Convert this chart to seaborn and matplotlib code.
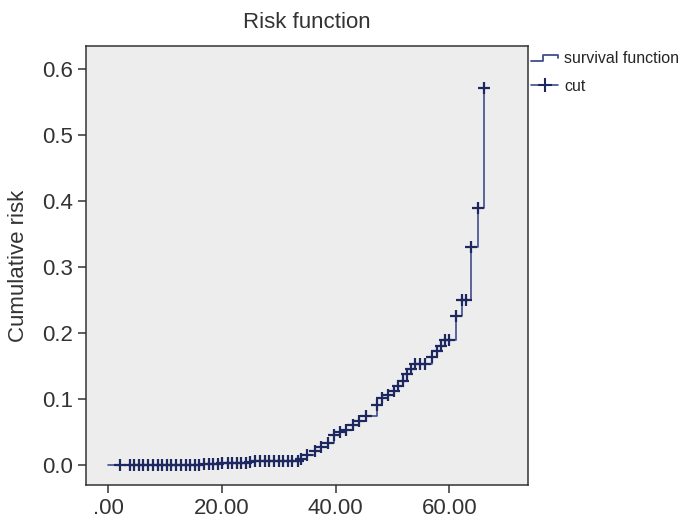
import matplotlib
matplotlib.use("Agg")
import matplotlib.pyplot as plt
from matplotlib.legend_handler import HandlerBase
from matplotlib.lines import Line2D
import pandas as pd
import seaborn as sns

# censored points on the cumulative risk curve (time, risk)
times = [2.1, 3.8, 4.6, 5.4, 6.2, 7.0, 7.9, 8.7, 9.5, 10.3, 11.1, 11.9,
         12.8, 13.6, 14.4, 15.2, 16.0, 16.9, 17.7, 18.5, 19.3, 20.1, 21.0,
         21.8, 22.6, 23.4, 24.2, 25.0, 25.9, 26.7, 27.5, 28.3, 29.2, 30.0,
         30.8, 31.6, 32.4, 33.3, 34.0, 35.0, 36.3, 37.4, 38.6, 39.8, 40.7,
         41.8, 43.0, 44.2, 45.4, 47.2, 48.1, 49.2, 50.2, 51.0, 51.9, 52.6,
         53.2, 54.0, 54.9, 55.8, 57.0, 57.9, 58.5, 59.2, 60.0, 61.2, 62.2,
         63.0, 63.9, 65.1, 66.1]
risk = [0.0, 0.0, 0.0, 0.0, 0.0, 0.0, 0.0, 0.0, 0.0, 0.0, 0.0, 0.0,
        0.0, 0.0, 0.0, 0.0, 0.0, 0.002, 0.002, 0.002, 0.002, 0.003, 0.003,
        0.003, 0.003, 0.003, 0.004, 0.005, 0.006, 0.006, 0.006, 0.006, 0.006, 0.006,
        0.006, 0.006, 0.006, 0.006, 0.010, 0.015, 0.022, 0.028, 0.034, 0.046, 0.051,
        0.054, 0.061, 0.067, 0.074, 0.091, 0.101, 0.106, 0.112, 0.120, 0.128, 0.138,
        0.145, 0.153, 0.153, 0.153, 0.164, 0.173, 0.180, 0.190, 0.190, 0.226, 0.250,
        0.250, 0.331, 0.389, 0.571]

x_ticks = [0, 20, 40, 60]
x_labels = [".00", "20.00", "40.00", "60.00"]
y_ticks = [0.0, 0.1, 0.2, 0.3, 0.4, 0.5, 0.6]

line_color = "#3f4e8e"
mark_color = "#1e2860"


class StepHandler(HandlerBase):
    def create_artists(self, legend, orig_handle, xdescent, ydescent,
                       width, height, fontsize, trans):
        xs = [-xdescent, -xdescent + 0.45 * width, -xdescent + 0.45 * width,
              -xdescent + width, -xdescent + width]
        ys = [0.2 * height, 0.2 * height, 0.75 * height, 0.75 * height, 0.45 * height]
        ln = Line2D(xs, ys, color=line_color, lw=1.3, transform=trans)
        return [ln]


def main():
    sns.set_style("ticks")
    plt.rcParams["font.family"] = ["Liberation Sans", "DejaVu Sans"]

    curve = pd.DataFrame({"time": [0.0] + times, "risk": [0.0] + risk})
    cens = pd.DataFrame({"time": times, "risk": risk})

    fig = plt.figure(figsize=(6.81, 5.23), dpi=100)
    ax = fig.add_axes([0.1263, 0.0727, 0.6495, 0.8394])
    ax.set_facecolor("#ededed")

    sns.lineplot(data=curve, x="time", y="risk", ax=ax, color=line_color,
                 lw=1.2, drawstyle="steps-post", estimator=None, sort=False)
    sns.scatterplot(data=cens, x="time", y="risk", ax=ax, marker="+",
                    s=65, color=mark_color, linewidth=1.6, zorder=3)

    ax.set_xlim(-3.9, 73.9)
    ax.set_ylim(-0.030, 0.635)
    ax.set_xticks(x_ticks)
    ax.set_xticklabels(x_labels)
    ax.set_yticks(y_ticks)
    ax.set_yticklabels([f"{v:.1f}" for v in y_ticks])
    ax.tick_params(labelsize=16, length=6, width=1.1, color="#333333",
                   labelcolor="#333333")
    for sp in ax.spines.values():
        sp.set_color("#333333")
        sp.set_linewidth(1.1)

    ax.set_xlabel("")
    ax.set_ylabel("Cumulative risk", fontsize=16, color="#333333", labelpad=9)
    ax.set_title("Risk function", fontsize=16, color="#333333", pad=13)

    h_step = Line2D([], [], color=line_color)
    h_cut = Line2D([], [], color=line_color, marker="+", markersize=10,
                   markeredgecolor=mark_color, markeredgewidth=1.5, lw=1.2)
    fig.legend([h_step, h_cut], ["survival function", "cut"],
               handler_map={h_step: StepHandler()},
               loc="upper left", bbox_to_anchor=(0.775, 0.908), frameon=False,
               handlelength=1.7, handletextpad=0.37, labelspacing=0.8,
               borderpad=0.2, borderaxespad=0.0, numpoints=1,
               prop={"size": 11.5})

    fig.savefig("out.png", dpi=100)


if __name__ == "__main__":
    main()
